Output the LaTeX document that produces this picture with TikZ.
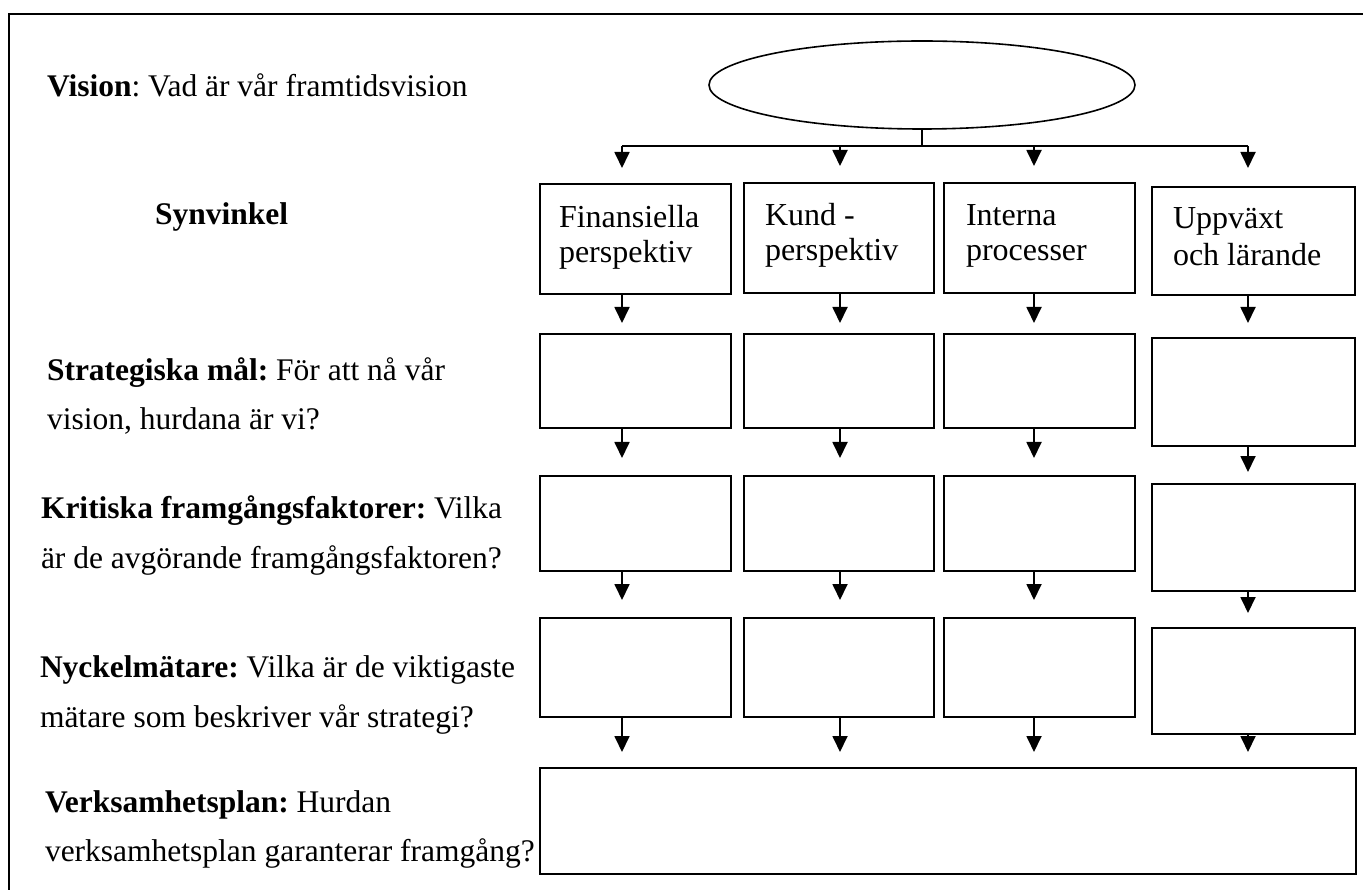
\documentclass[tikz,border=0pt]{standalone}
\usepackage{fontspec}
\setmainfont{Liberation Serif}
\usetikzlibrary{arrows.meta,shapes.geometric}
\frenchspacing
\begin{document}
\begin{tikzpicture}[x=1pt,y=-1pt,
  ln/.style={line width=1.8pt},
  cell/.style={draw, line width=1.8pt, inner sep=0pt, outer sep=0pt, anchor=north west},
  txt/.style={anchor=base west, inner sep=0pt, outer sep=0pt, font=\fontsize{32}{38}\selectfont},
  ltxt/.style={anchor=base west, inner sep=0pt, outer sep=0pt, font=\fontsize{31.5}{38}\selectfont},
  arr/.style={line width=1.8pt, -{Triangle[width=15pt,length=16pt]}},
]
\useasboundingbox (0,0) rectangle (1363,890);
% frame
\draw[ln] (9,895) -- (9,14) -- (1368,14);

% vision ellipse
\node[draw, ellipse, line width=1.6pt, inner sep=0pt, outer sep=0pt,
      minimum width=426pt, minimum height=88pt] (vis) at (922,85) {};
\coordinate (hub) at (922,146);
\coordinate (j1) at (622,146);
\coordinate (j2) at (840,146);
\coordinate (j3) at (1034,146);
\coordinate (j4) at (1248,146);

% row 1 (Synvinkel)
\node[cell, minimum width=191pt, minimum height=110pt] (a1) at (540,184) {};
\node[cell, minimum width=190pt, minimum height=110pt] (a2) at (744,183) {};
\node[cell, minimum width=191pt, minimum height=110pt] (a3) at (944,183) {};
\node[cell, minimum width=203pt, minimum height=108pt] (a4) at (1152,187) {};
% row 2
\node[cell, minimum width=191pt, minimum height=94pt] (b1) at (540,334) {};
\node[cell, minimum width=190pt, minimum height=94pt] (b2) at (744,334) {};
\node[cell, minimum width=191pt, minimum height=94pt] (b3) at (944,334) {};
\node[cell, minimum width=203pt, minimum height=108pt] (b4) at (1152,338) {};
% row 3
\node[cell, minimum width=191pt, minimum height=95pt] (c1) at (540,476) {};
\node[cell, minimum width=190pt, minimum height=95pt] (c2) at (744,476) {};
\node[cell, minimum width=191pt, minimum height=95pt] (c3) at (944,476) {};
\node[cell, minimum width=203pt, minimum height=107pt] (c4) at (1152,484) {};
% row 4
\node[cell, minimum width=191pt, minimum height=99pt] (d1) at (540,618) {};
\node[cell, minimum width=190pt, minimum height=99pt] (d2) at (744,618) {};
\node[cell, minimum width=191pt, minimum height=99pt] (d3) at (944,618) {};
\node[cell, minimum width=203pt, minimum height=106pt] (d4) at (1152,628) {};
% bottom
\node[cell, minimum width=816pt, minimum height=106pt] (e) at (540,768) {};

% connectors from vision
\draw[ln] (vis.south) -- (hub);
\draw[ln] (j1) -- (j4);
\draw[arr, shorten >=16pt] (j1) -- (a1.north -| j1);
\draw[arr, shorten >=17pt] (j2) -- (a2.north -| j2);
\draw[arr, shorten >=17pt] (j3) -- (a3.north -| j3);
\draw[arr, shorten >=19pt] (j4) -- (a4.north -| j4);

% row 1 -> row 2
\draw[arr, shorten >=11pt] (a1.south -| j1) -- (b1.north -| j1);
\draw[arr, shorten >=11pt] (a2.south -| j2) -- (b2.north -| j2);
\draw[arr, shorten >=11pt] (a3.south -| j3) -- (b3.north -| j3);
\draw[arr, shorten >=15pt] (a4.south -| j4) -- (b4.north -| j4);
% row 2 -> row 3
\draw[arr, shorten >=18pt] (b1.south -| j1) -- (c1.north -| j1);
\draw[arr, shorten >=18pt] (b2.south -| j2) -- (c2.north -| j2);
\draw[arr, shorten >=18pt] (b3.south -| j3) -- (c3.north -| j3);
\draw[arr, shorten >=12pt] (b4.south -| j4) -- (c4.north -| j4);
% row 3 -> row 4
\draw[arr, shorten >=18pt] (c1.south -| j1) -- (d1.north -| j1);
\draw[arr, shorten >=18pt] (c2.south -| j2) -- (d2.north -| j2);
\draw[arr, shorten >=18pt] (c3.south -| j3) -- (d3.north -| j3);
\draw[arr, shorten >=15pt] (c4.south -| j4) -- (d4.north -| j4);
% row 4 -> bottom
\draw[arr, shorten >=16pt] (d1.south -| j1) -- (e.north -| j1);
\draw[arr, shorten >=16pt] (d2.south -| j2) -- (e.north -| j2);
\draw[arr, shorten >=16pt] (d3.south -| j3) -- (e.north -| j3);
\draw[arr, shorten >=16pt] (d4.south -| j4) -- (e.north -| j4);

% box texts
\node[txt] (a1t1) at (559,228) {Finansiella};
\node[txt] (a1t2) at (559,263) {perspektiv};
\node[txt] (a2t1) at (765,226) {Kund -};
\node[txt] (a2t2) at (765,261) {perspektiv};
\node[txt] (a3t1) at (966,226) {Interna};
\node[txt] (a3t2) at (966,261) {processer};
\node[txt] (a4t1) at (1173,229) {Uppväxt};
\node[txt] (a4t2) at (1173,266) {och lärande};

% left texts
\node[ltxt] (l1) at (47,97) {\textbf{Vision}: Vad är vår framtidsvision};
\node[ltxt] (l2) at (155,225) {\textbf{Synvinkel}};
\node[ltxt] (l3a) at (47,381) {\textbf{Strategiska mål:} För att nå vår};
\node[ltxt] (l3b) at (47,429) {vision, hurdana är vi?};
\node[ltxt] (l4a) at (41,518) {\textbf{Kritiska framgångsfaktorer:} Vilka};
\node[ltxt] (l4b) at (41,568) {är de avgörande framgångsfaktoren?};
\node[ltxt] (l5a) at (40,677) {\textbf{Nyckelmätare:} Vilka är de viktigaste};
\node[ltxt] (l5b) at (40,727) {mätare som beskriver vår strategi?};
\node[ltxt] (l6a) at (45,812) {\textbf{Verksamhetsplan:} Hurdan};
\node[ltxt] (l6b) at (45,861) {verksamhetsplan garanterar framgång?};
\end{tikzpicture}
\end{document}
